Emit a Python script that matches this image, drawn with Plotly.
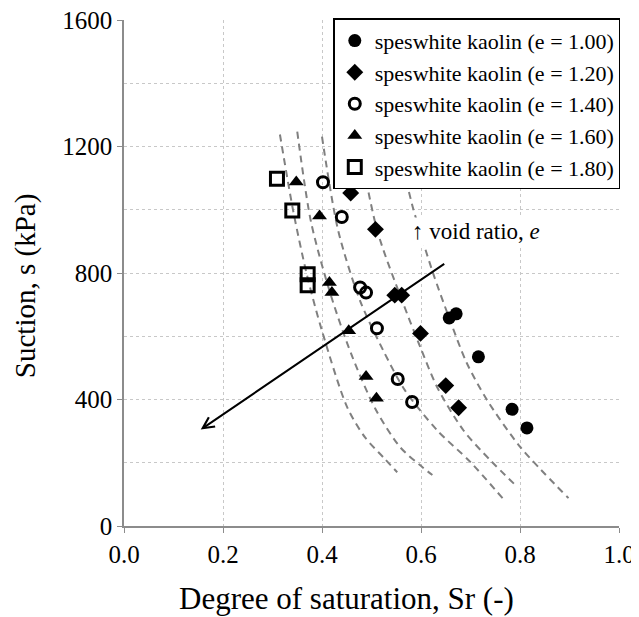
import plotly.graph_objects as go

# measured points, degree of saturation Sr (-) vs suction s (kPa)
sr_e100 = [0.657, 0.671, 0.716, 0.784, 0.814]
s_e100 = [658, 671, 535, 369, 310]

sr_e120 = [0.458, 0.508, 0.547, 0.561, 0.599, 0.650, 0.676]
s_e120 = [1053, 938, 730, 730, 609, 444, 374]

sr_e140 = [0.402, 0.440, 0.477, 0.489, 0.511, 0.553, 0.582]
s_e140 = [1087, 977, 754, 738, 625, 465, 392]

sr_e160 = [0.348, 0.395, 0.415, 0.420, 0.454, 0.489, 0.510]
s_e160 = [1088, 980, 770, 738, 617, 473, 404]

sr_e180 = [0.309, 0.340, 0.371, 0.371]
s_e180 = [1098, 998, 796, 761]

# fitted curves (dashed)
fit_sr_e180 = [0.315, 0.342, 0.370, 0.400, 0.451, 0.487, 0.524, 0.552]
fit_s_e180 = [1238, 995, 791, 617, 375, 280, 217, 170]

fit_sr_e160 = [0.350, 0.378, 0.417, 0.460, 0.508, 0.558, 0.603, 0.623]
fit_s_e160 = [1247, 960, 734, 540, 370, 249, 186, 161]

fit_sr_e140 = [0.400, 0.433, 0.477, 0.524, 0.568, 0.633, 0.700, 0.768]
fit_s_e140 = [1231, 932, 712, 554, 428, 302, 202, 82]

fit_sr_e120 = [0.471, 0.512, 0.562, 0.599, 0.633, 0.686, 0.740, 0.791]
fit_s_e120 = [1241, 932, 712, 564, 438, 302, 208, 129]

fit_sr_e100 = [0.548, 0.584, 0.623, 0.659, 0.692, 0.734, 0.801, 0.898]
fit_s_e100 = [1241, 1005, 806, 649, 517, 397, 249, 88]

FONT = "Liberation Serif"

fig = go.Figure()

fits = [
    (fit_sr_e180, fit_s_e180),
    (fit_sr_e160, fit_s_e160),
    (fit_sr_e140, fit_s_e140),
    (fit_sr_e120, fit_s_e120),
    (fit_sr_e100, fit_s_e100),
]
for fx, fy in fits:
    fig.add_trace(go.Scatter(
        x=fx, y=fy, mode="lines",
        line=dict(color="#808080", width=2, dash="7px,5px",
                  shape="spline", smoothing=0.8),
        showlegend=False, hoverinfo="skip"
    ))

series = [
    ("speswhite kaolin (e = 1.00)", sr_e100, s_e100, "circle", 13),
    ("speswhite kaolin (e = 1.20)", sr_e120, s_e120, "diamond", 13),
    ("speswhite kaolin (e = 1.40)", sr_e140, s_e140, "circle-open", 11),
    ("speswhite kaolin (e = 1.60)", sr_e160, s_e160, "triangle-up", 13),
    ("speswhite kaolin (e = 1.80)", sr_e180, s_e180, "square-open", 13),
]
for name, xs, ys, sym, size in series:
    fig.add_trace(go.Scatter(
        x=xs, y=ys, mode="markers", name=name,
        marker=dict(symbol=sym, size=size, color="black",
                    line=dict(color="black", width=3 if "open" in sym else 0))
    ))

# arrow showing direction of increasing void ratio
fig.add_annotation(
    x=0.155, y=305, ax=0.650, ay=832,
    xref="x", yref="y", axref="x", ayref="y",
    text="", showarrow=True, arrowhead=5, arrowsize=1.1,
    arrowwidth=2, arrowcolor="black"
)
fig.add_annotation(
    x=0.712, y=932, xref="x", yref="y",
    text="\u2191 void ratio, <i>e</i>", showarrow=False,
    font=dict(family=FONT, size=23, color="black"),
    bgcolor="white"
)

# axis titles
fig.add_annotation(
    x=0.45, y=-0.144, xref="paper", yref="paper",
    text="Degree of saturation, Sr (-)", showarrow=False,
    font=dict(family=FONT, size=31, color="black"),
    xanchor="center", yanchor="middle"
)
fig.add_annotation(
    x=-0.2, y=0.474, xref="paper", yref="paper",
    text="Suction, s (kPa)", showarrow=False, textangle=-90,
    font=dict(family=FONT, size=29, color="black"),
    xanchor="center", yanchor="middle"
)

fig.update_xaxes(
    range=[0, 1], dtick=0.2, tickformat=".1f", automargin=False,
    ticklabeloverflow="allow",
    showgrid=True, gridcolor="#c8c8c8", griddash="dot", gridwidth=1,
    showline=True, linecolor="#8c8c8c", linewidth=1.5,
    ticks="outside", ticklen=5, tickcolor="#8c8c8c",
    tickfont=dict(family=FONT, size=25, color="black"),
    zeroline=False
)
fig.update_yaxes(
    range=[0, 1600], dtick=400, automargin=False,
    ticklabeloverflow="allow",
    showgrid=True, gridcolor="#c8c8c8", griddash="dot", gridwidth=1,
    minor=dict(dtick=200, showgrid=True, gridcolor="#c8c8c8", griddash="dot"),
    showline=True, linecolor="#8c8c8c", linewidth=1.5,
    ticks="outside", ticklen=5, tickcolor="#8c8c8c",
    tickfont=dict(family=FONT, size=25, color="black"),
    zeroline=False
)

# the page body adds an 8px margin, so the figure is a bit smaller
fig.update_layout(
    width=631, height=609,
    margin=dict(l=116, r=20, t=10, b=91),
    plot_bgcolor="white", paper_bgcolor="white",
    font=dict(family=FONT, color="black"),
    legend=dict(
        x=1.003, y=1.003, xanchor="right", yanchor="top",
        bgcolor="white", bordercolor="black", borderwidth=1.3,
        font=dict(family=FONT, size=22, color="black"),
        tracegroupgap=0
    ),
    showlegend=True
)

fig.write_html("out.html")
